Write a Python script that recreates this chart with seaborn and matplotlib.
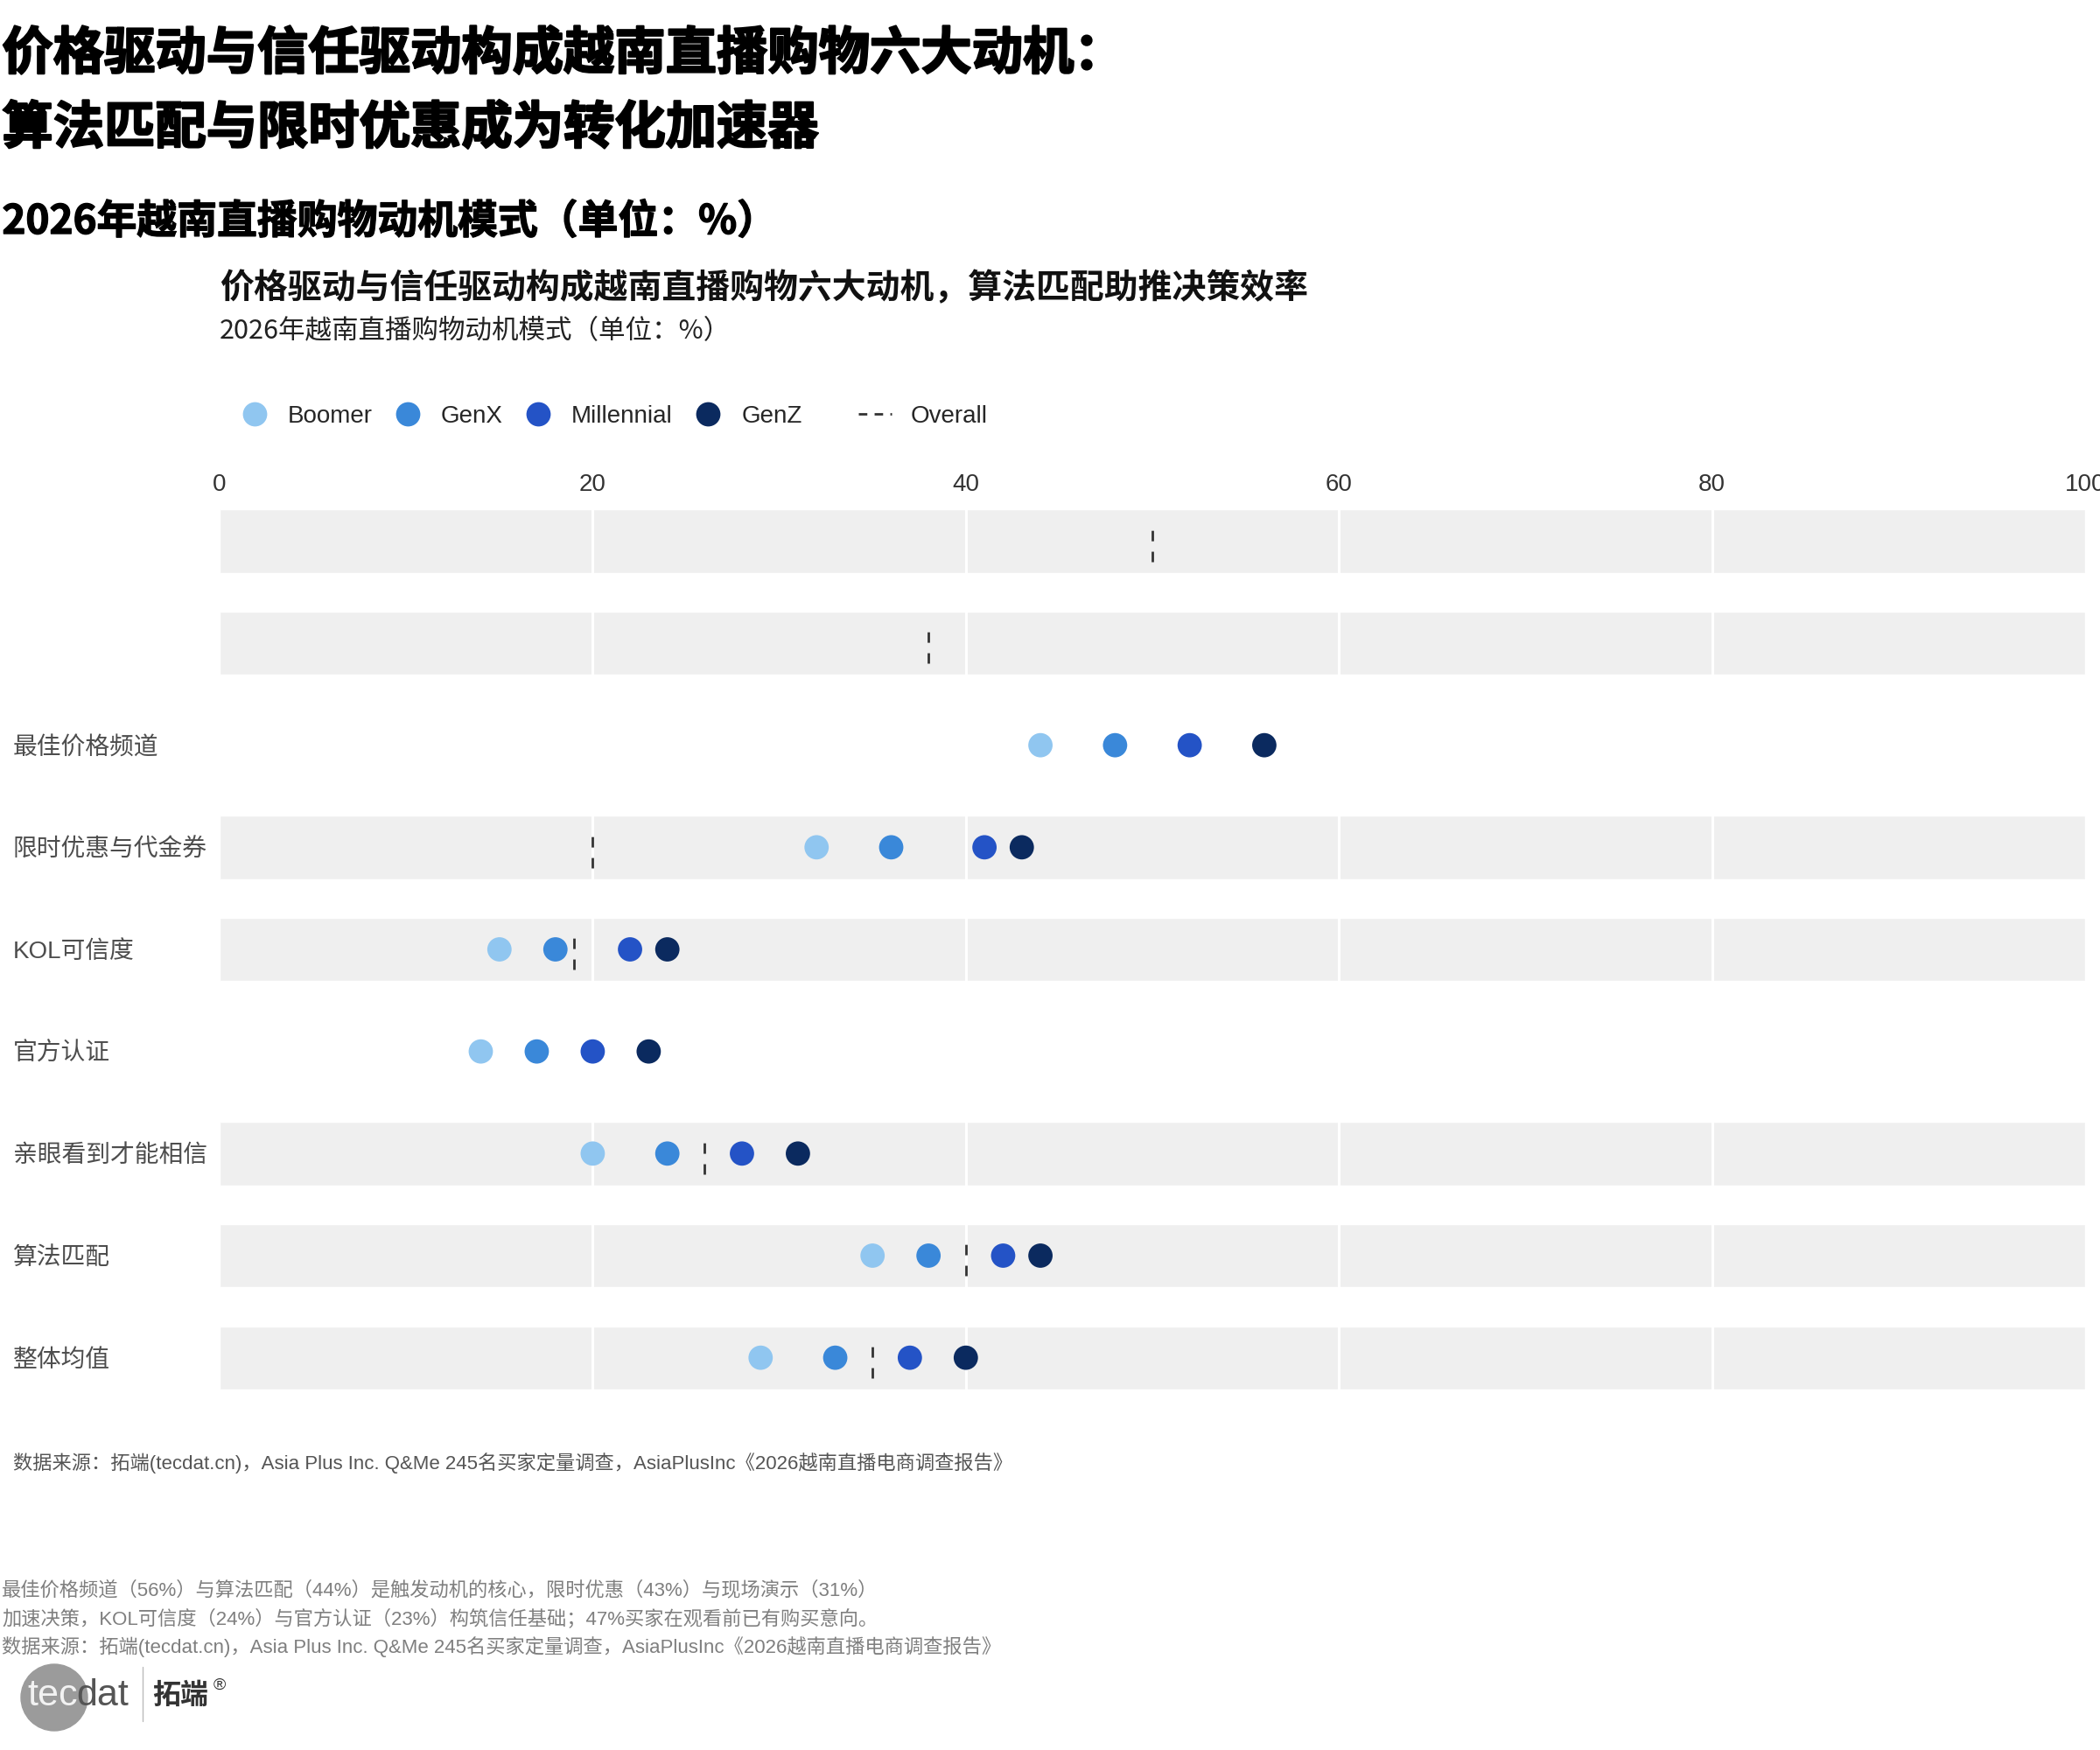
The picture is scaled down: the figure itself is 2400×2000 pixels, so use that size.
import numpy as np
import pandas as pd
import seaborn as sns
import matplotlib.pyplot as plt
import matplotlib.patheffects as pe
from matplotlib.lines import Line2D
from matplotlib.patches import Ellipse

# -----------------------
# Data (%)
# -----------------------
motives = ['最佳价格频道', '限时优惠与代金券', 'KOL可信度', '官方认证',
           '亲眼看到才能相信', '算法匹配', '整体均值']
generations = ['Boomer', 'GenX', 'Millennial', 'GenZ']
boomer = [44, 32, 15, 14, 20, 35, 29]
genx = [48, 36, 18, 17, 24, 38, 33]
millennial = [52, 41, 22, 20, 28, 42, 37]
genz = [56, 43, 24, 23, 31, 44, 40]

# two unlabeled rows on top only carry an overall marker
row_labels = ['', ''] + motives
overall = [50, 38, np.nan, 20, 19, np.nan, 26, 40, 35]
x_ticks = [0, 20, 40, 60, 80, 100]

palette = {'Boomer': '#90c6f0', 'GenX': '#3a88d9',
           'Millennial': '#2453c6', 'GenZ': '#0b2a5f'}

offset = len(row_labels) - len(motives)
records = []
for gen, vals in zip(generations, [boomer, genx, millennial, genz]):
    for i, (m, v) in enumerate(zip(motives, vals)):
        records.append([m, offset + i, gen, v])
df = pd.DataFrame(records, columns=['Motive', 'Row', 'Generation', 'Value'])
ov = pd.DataFrame({'Row': range(len(row_labels)), 'Overall': overall}).dropna()

# -----------------------
# Figure
# -----------------------
sns.set_style('white')
plt.rcParams['font.family'] = ['Liberation Sans', 'Noto Sans CJK SC', 'DejaVu Sans']
plt.rcParams['lines.scale_dashes'] = False
cjk = ['Noto Sans CJK SC', 'DejaVu Sans']
heavy = [pe.withStroke(linewidth=1.6, foreground='black')]

W, H = 2400, 2000
fig = plt.figure(figsize=(24, 20), dpi=100)
ax = fig.add_axes([251 / W, 1 - 1610 / H, 2132 / W, 1050 / H])

# grey bands behind rows that have an overall value
ax.barh(ov['Row'], 100, left=0, height=0.62, color='#efefef', zorder=1)
for x in x_ticks[1:-1]:
    ax.axvline(x, color='white', lw=2.2, zorder=2)

ax.vlines(ov['Overall'], ov['Row'] + 0.2, ov['Row'] - 0.2,
          colors='#333333', lw=2, linestyles=[(0, (8.6, 8.6))], zorder=3)

sns.scatterplot(data=df, x='Value', y='Row', hue='Generation',
                hue_order=generations, palette=palette, s=400,
                linewidth=0, legend=False, ax=ax, zorder=4)

ax.set_xlim(0, 100)
ax.set_ylim(len(row_labels) - 0.5, -0.5)
ax.set_xticks(x_ticks)
ax.xaxis.tick_top()
ax.tick_params(axis='x', length=0, pad=-5, labelsize=20, labelcolor='#333333')
ax.set_yticks(range(len(row_labels)))
ax.set_yticklabels(row_labels, ha='left')
ax.tick_params(axis='y', length=0, pad=170, labelsize=20, labelcolor='#4d4d4d')
ax.set_xlabel('')
ax.set_ylabel('')
sns.despine(ax=ax, left=True, bottom=True, top=True, right=True)

# legends
handles = [Line2D([], [], marker='o', ls='', markersize=20,
                  markerfacecolor=palette[g], markeredgewidth=0) for g in generations]
fig.legend(handles, generations, loc='center left',
           bbox_to_anchor=(272 / W, 1 - 476 / H), ncol=4, frameon=False,
           fontsize=20, handlelength=1.35, handletextpad=0.69,
           columnspacing=0.78, borderpad=0, borderaxespad=0)
fig.legend([Line2D([], [], color='#333333', lw=2, ls=(0, (7, 6)))], ['Overall'],
           loc='center left', bbox_to_anchor=(981 / W, 1 - 476 / H),
           frameon=False, fontsize=20, handlelength=1.35, handletextpad=0.8,
           borderpad=0, borderaxespad=0)

# titles
fig.text(0.001, 1 - 62 / H, '价格驱动与信任驱动构成越南直播购物六大动机：',
         fontsize=42, weight='heavy', va='center', color='black', family=cjk,
         path_effects=heavy)
fig.text(0.001, 1 - 147 / H, '算法匹配与限时优惠成为转化加速器',
         fontsize=42, weight='heavy', va='center', color='black', family=cjk,
         path_effects=heavy)
fig.text(0.001, 1 - 254 / H, '2026年越南直播购物动机模式（单位：%）',
         fontsize=33, weight='bold', va='center', color='black', family=cjk,
         path_effects=[pe.withStroke(linewidth=1.0, foreground='black')])
fig.text(251 / W, 1 - 330 / H, '价格驱动与信任驱动构成越南直播购物六大动机，算法匹配助推决策效率',
         fontsize=28, weight='bold', va='center', color='#111111', family=cjk)
fig.text(251 / W, 1 - 379 / H, '2026年越南直播购物动机模式（单位：%）',
         fontsize=22, va='center', color='#222222', family=cjk)

source = '数据来源：拓端(tecdat.cn)，Asia Plus Inc. Q&Me 245名买家定量调查，AsiaPlusInc《2026越南直播电商调查报告》'
fig.text(15 / W, 1 - 1672 / H, source, fontsize=16, va='center', color='#555555')

footer = ['最佳价格频道（56%）与算法匹配（44%）是触发动机的核心，限时优惠（43%）与现场演示（31%）',
          '加速决策，KOL可信度（24%）与官方认证（23%）构筑信任基础；47%买家在观看前已有购买意向。',
          source]
for yy, line in zip([1818, 1850, 1882], footer):
    fig.text(0.001, 1 - yy / H, line, fontsize=16, va='center', color='#7f7f7f')

# logo
fig.add_artist(Ellipse((62 / W, 1 - 1940 / H), 76 / W, 76 / H,
                       transform=fig.transFigure, color='#9b9b9b', zorder=0))
fig.text(31 / W, 1 - 1938 / H, 'tec', fontsize=31, va='center', color='#f2f2f2')
fig.text(87 / W, 1 - 1938 / H, 'dat', fontsize=31, va='center', color='#555555')
fig.add_artist(Line2D([163 / W, 163 / W], [1 - 1905 / H, 1 - 1967 / H],
                      transform=fig.transFigure, color='#bbbbbb', lw=1))
fig.text(174 / W, 1 - 1938 / H, '拓端', fontsize=23, va='center', color='#333333',
         weight='bold', family=cjk)
fig.text(244 / W, 1 - 1926 / H, '®', fontsize=14, va='center', color='#333333')

fig.savefig('out.png', dpi=100)
plt.close(fig)
